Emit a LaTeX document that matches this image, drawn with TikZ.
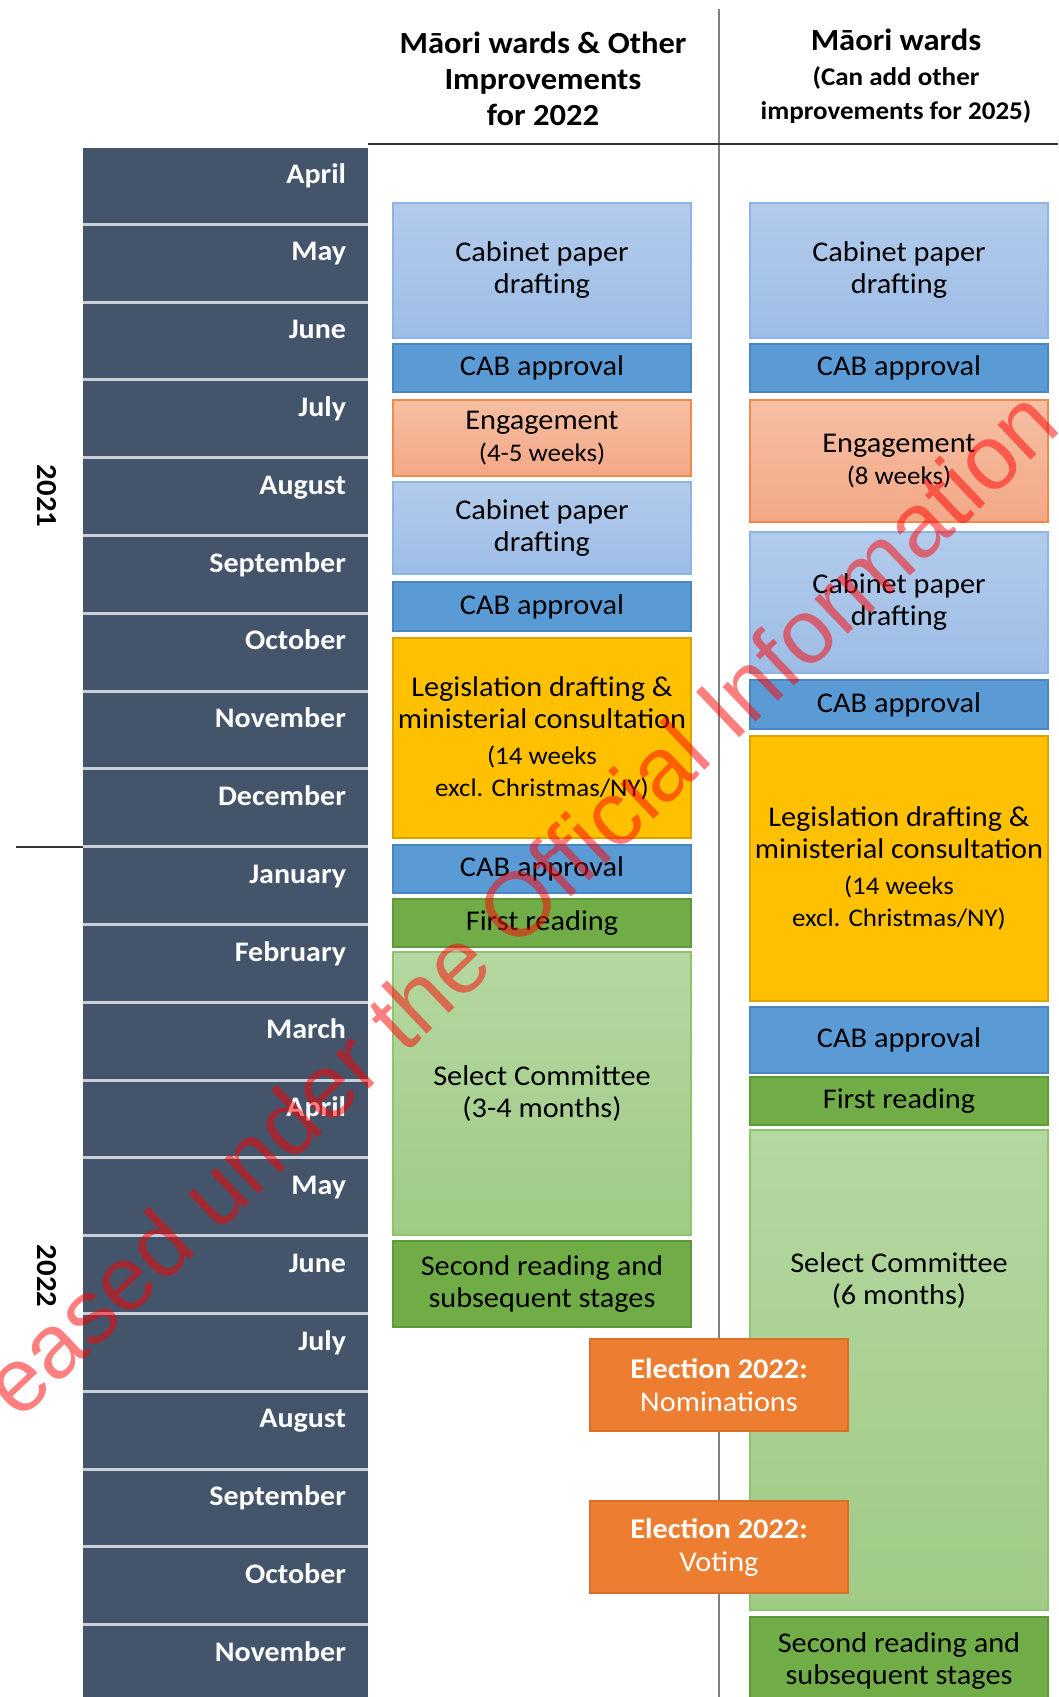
\documentclass[tikz,border=0pt]{standalone}
\usepackage{fontspec}
\setmainfont{Carlito}[FakeStretch=1.06]
\newfontfamily\wmfont{Liberation Sans}
\usetikzlibrary{positioning, calc}

\definecolor{barslate}{HTML}{44546A}
\definecolor{barsep}{HTML}{C9CFD8}
\definecolor{paperblue}{HTML}{B3CBEB}
\definecolor{paperblue2}{HTML}{9DBDE6}
\definecolor{paperedge}{HTML}{8EB4E3}
\definecolor{cabblue}{HTML}{5B9BD5}
\definecolor{cabedge}{HTML}{4A86C0}
\definecolor{engtop}{HTML}{F6BFA3}
\definecolor{engbot}{HTML}{F3A886}
\definecolor{engedge}{HTML}{F08A4B}
\definecolor{legisgold}{HTML}{FFC000}
\definecolor{legisedge}{HTML}{D9A400}
\definecolor{readgreen}{HTML}{70AD47}
\definecolor{readedge}{HTML}{5E9A3A}
\definecolor{sctop}{HTML}{B5D7A0}
\definecolor{scbot}{HTML}{A0CB86}
\definecolor{scedge}{HTML}{8FC46E}
\definecolor{elecorange}{HTML}{ED7D31}
\definecolor{elecedge}{HTML}{D9702A}

\newcommand\hdrfont{\fontsize{30.7}{36}\selectfont\bfseries}
\newcommand\subhdrfont{\fontsize{25.5}{29}\selectfont\bfseries}
\newcommand\boxfont{\fontsize{28.6}{32}\selectfont}
\newcommand\notefont{\fontsize{25.4}{33}\selectfont}
\newcommand\monthfont{\fontsize{28.3}{34}\selectfont\bfseries}
\newcommand\elecfont{\fontsize{28.6}{33}\selectfont}

\begin{document}
\begin{tikzpicture}[
  x=1pt, y=-1pt,
  month/.style    = {fill=barslate, text=white, font=\monthfont, align=right,
                     text width=241pt, inner xsep=22pt, inner ysep=0pt, outer sep=0pt,
                     text height=35pt, text depth=39.8pt},
  year/.style     = {rotate=-90, font=\fontsize{29}{36}\selectfont\bfseries},
  header/.style   = {align=center, font=\hdrfont},
  stage/.style    = {draw, line width=1.2pt, minimum width=298pt, inner sep=0pt, outer sep=0pt,
                     align=center, font=\boxfont},
  cabpaper/.style = {stage, draw=paperedge, top color=paperblue, bottom color=paperblue2},
  cabok/.style    = {stage, draw=cabedge, fill=cabblue},
  engage/.style   = {stage, draw=engedge, top color=engtop, bottom color=engbot},
  legis/.style    = {stage, draw=legisedge, fill=legisgold},
  reading/.style  = {stage, draw=readedge, fill=readgreen},
  selcom/.style   = {stage, draw=scedge, top color=sctop, bottom color=scbot},
  election/.style = {draw=elecedge, line width=1.2pt, fill=elecorange, text=white,
                     minimum width=258pt, minimum height=92pt, inner sep=0pt,
                     align=center, font=\elecfont},
  watermark/.style = {rotate=43.5, text=red, opacity=0.5, inner sep=0pt,
                      font=\wmfont\fontsize{91}{100}\selectfont}
]
\useasboundingbox (0,0) rectangle (1058,1697);

%--------------------------------------------------
% month column
%--------------------------------------------------
\fill[barsep] (83,148) rectangle (368,1697);
\node[month, anchor=north west] (m_apr21) at (83,148) {April};
\node[month, below=3pt of m_apr21] (m_may21) {May};
\node[month, below=3pt of m_may21] (m_jun21) {June};
\node[month, below=3pt of m_jun21] (m_jul21) {July};
\node[month, below=3pt of m_jul21] (m_aug21) {August};
\node[month, below=3pt of m_aug21] (m_sep21) {September};
\node[month, below=3pt of m_sep21] (m_oct21) {October};
\node[month, below=3pt of m_oct21] (m_nov21) {November};
\node[month, below=3pt of m_nov21] (m_dec21) {December};
\node[month, below=3pt of m_dec21] (m_jan22) {January};
\node[month, below=3pt of m_jan22] (m_feb22) {February};
\node[month, below=3pt of m_feb22] (m_mar22) {March};
\node[month, below=3pt of m_mar22] (m_apr22) {April};
\node[month, below=3pt of m_apr22] (m_may22) {May};
\node[month, below=3pt of m_may22] (m_jun22) {June};
\node[month, below=3pt of m_jun22] (m_jul22) {July};
\node[month, below=3pt of m_jul22] (m_aug22) {August};
\node[month, below=3pt of m_aug22] (m_sep22) {September};
\node[month, below=3pt of m_sep22] (m_oct22) {October};
\node[month, below=3pt of m_oct22] (m_nov22) {November};

% years
\node[year] (y2021) at (46.5,496) {2021};
\node[year] (y2022) at (46.5,1276) {2022};
\coordinate (yr_split) at (16,847);
\draw[line width=2pt, black!80] (yr_split) -- (yr_split -| m_jan22.west);

%--------------------------------------------------
% column headers and rules
%--------------------------------------------------
\coordinate (div_top) at (719,9);
\coordinate (div_bot) at (719,1697);
\coordinate (hdr_left) at (368,144);
\coordinate (hdr_right) at (1058,144);
\draw[line width=2.5pt, black!50] (div_top) -- (div_bot);
\draw[line width=2pt, black!80] (hdr_left) -- (hdr_right);

\node[header] (h_left) at (543,79) {Māori wards \& Other\\Improvements\\for 2022};
\node[header] (h_right) at (896,76)
  {Māori wards\\[-0.7pt]\subhdrfont (Can add other\\[-2pt]\subhdrfont improvements for 2025)};

%--------------------------------------------------
% left column: Maori wards & other improvements
%--------------------------------------------------
\node[cabpaper, minimum height=135pt, anchor=north] (l_paper1) at (542,203) {Cabinet paper\\drafting};
\node[cabok, minimum height=48pt, below=6pt of l_paper1] (l_cab1) {CAB approval};
\node[engage, minimum height=76pt, below=8pt of l_cab1] (l_engage)
  {Engagement\\\notefont (4-5 weeks)};
\node[cabpaper, minimum height=92pt, below=6pt of l_engage] (l_paper2) {Cabinet paper\\drafting};
\node[cabok, minimum height=49pt, below=8pt of l_paper2] (l_cab2) {CAB approval};
\node[legis, minimum height=200pt, below=7pt of l_cab2] (l_legis)
  {Legislation drafting \&\\ministerial consultation\\[4pt]\notefont (14 weeks\\\notefont excl. Christmas/NY)};
\node[cabok, minimum height=48pt, below=7pt of l_legis] (l_cab3) {CAB approval};
\node[reading, minimum height=48pt, below=6pt of l_cab3] (l_first) {First reading};
\node[selcom, minimum height=283pt, below=5pt of l_first] (l_selcom) {Select Committee\\(3-4 months)};
\node[reading, minimum height=86pt, below=6pt of l_selcom] (l_second)
  {Second reading and\\subsequent stages};

%--------------------------------------------------
% right column: Maori wards only
%--------------------------------------------------
\node[cabpaper, minimum height=135pt, anchor=north] (r_paper1) at (899,203) {Cabinet paper\\drafting};
\node[cabok, minimum height=48pt, below=6pt of r_paper1] (r_cab1) {CAB approval};
\node[engage, minimum height=122pt, below=8pt of r_cab1] (r_engage)
  {Engagement\\\notefont (8 weeks)};
\node[cabpaper, minimum height=141pt, below=10pt of r_engage] (r_paper2) {Cabinet paper\\drafting};
\node[cabok, minimum height=49pt, below=7pt of r_paper2] (r_cab2) {CAB approval};
\node[legis, minimum height=265pt, below=7pt of r_cab2] (r_legis)
  {Legislation drafting \&\\ministerial consultation\\[4pt]\notefont (14 weeks\\\notefont excl. Christmas/NY)};
\node[cabok, minimum height=66pt, below=6pt of r_legis] (r_cab3) {CAB approval};
\node[reading, minimum height=48pt, below=4pt of r_cab3] (r_first) {First reading};
\node[selcom, minimum height=480pt, below=5pt of r_first] (r_selcom) {};
\node[font=\boxfont, align=center] (r_selcom_txt) at ($(r_selcom.north)+(0,151)$)
  {Select Committee\\(6 months)};
\node[reading, minimum height=88pt, below=7pt of r_selcom] (r_second)
  {Second reading and\\subsequent stages};

%--------------------------------------------------
% election dates (on the divider)
%--------------------------------------------------
\node[election] (e_nom) at (719,1385) {\textbf{Election 2022:}\\Nominations};
\node[election] (e_vote) at (719,1547) {\textbf{Election 2022:}\\Voting};

% watermark
\node[watermark] (wm) at (519,902) {eased under the Official Information};

\end{tikzpicture}
\end{document}
